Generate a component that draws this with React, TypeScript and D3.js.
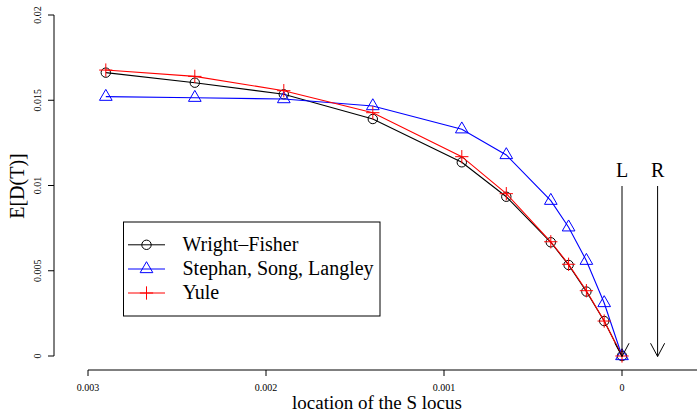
import React from "react";
import { scaleLinear, line } from "d3";

// location of the S locus (axis runs from 0.003 down to 0)
const positions = [0.0029, 0.0024, 0.0019, 0.0014, 0.0009, 0.00065, 0.0004, 0.0003, 0.0002, 0.0001, 0];
const wrightFisher = [0.01662, 0.01603, 0.01535, 0.0139, 0.01136, 0.00934, 0.00667, 0.00534, 0.00378, 0.00205, 0];
const stephanSongLangley = [0.01521, 0.01515, 0.01507, 0.01466, 0.0133, 0.01179, 0.00911, 0.00755, 0.00559, 0.00311, 0];
const yule = [0.01677, 0.0164, 0.01556, 0.01427, 0.01169, 0.00952, 0.0067, 0.00538, 0.00383, 0.00205, 0];

const xTicks = [0.003, 0.002, 0.001, 0];
const xTickLabels = ["0.003", "0.002", "0.001", "0"];
const yTicks = [0, 0.005, 0.01, 0.015, 0.02];
const yTickLabels = ["0", "0.005", "0.01", "0.015", "0.02"];

const seriesNames = ["Wright\u2013Fisher", "Stephan, Song, Langley", "Yule"];
const seriesColors = ["#000000", "#0000ff", "#ff0000"];
const seriesShapes = ["circle", "triangle", "plus"];
const seriesValues = [wrightFisher, stephanSongLangley, yule];

// marker positions for the L and R loci
const markerLabels = ["L", "R"];
const markerPositions = [0, -0.0002];

const W = 697;
const H = 412;
const FONT = "'Liberation Serif', 'Times New Roman', serif";
const txt = { fontFamily: FONT };

function Marker({ shape, x, y, color }) {
  const r = 4.7;
  if (shape === "circle") {
    return <circle cx={x} cy={y} r={r} fill="none" stroke={color} strokeWidth={1} />;
  }
  if (shape === "triangle") {
    const top = 1.555 * r, bot = 0.7776 * r, half = 1.347 * r;
    const d = `M${x},${y - top}L${x + half},${y + bot}L${x - half},${y + bot}Z`;
    return <path d={d} fill="none" stroke={color} strokeWidth={1} />;
  }
  const a = 1.414 * r;
  return <path d={`M${x - a},${y}H${x + a}M${x},${y - a}V${y + a}`} stroke={color} strokeWidth={1} />;
}

export default function App() {
  const x = scaleLinear().domain([0.003, 0]).range([88, 622]);
  const y = scaleLinear().domain([0, 0.02]).range([356, 15]);
  const axisY = 370;
  const axisX = 54;

  const lineGen = line<number>()
    .x((d, i) => x(positions[i]))
    .y(d => y(d));

  const legend = { x0: 123.5, y0: 222, x1: 380, y1: 316, rows: [244.8, 269, 293] };

  return (
    <div style={{ position: "absolute", left: 0, top: 0 }}>
      <svg width={W} height={H} style={{ display: "block", background: "#fff" }}>
        {/* y axis */}
        <line x1={axisX} x2={axisX} y1={y(0)} y2={y(0.02)} stroke="#000" />
        {yTicks.map((t, i) => (
          <g key={"yt" + i}>
            <line x1={axisX - 6} x2={axisX} y1={y(t)} y2={y(t)} stroke="#000" />
            <text transform={`translate(41,${y(t)}) rotate(-90)`} textAnchor="middle" fontSize={10} style={txt}>
              {yTickLabels[i]}
            </text>
          </g>
        ))}
        <text transform={`translate(24,186) rotate(-90)`} textAnchor="middle" fontSize={20} style={txt}>
          E[D(T)]
        </text>

        {/* x axis */}
        <line x1={x(0.003)} x2={W} y1={axisY} y2={axisY} stroke="#000" />
        {xTicks.map((t, i) => (
          <g key={"xt" + i}>
            <line x1={x(t)} x2={x(t)} y1={axisY} y2={axisY + 6} stroke="#000" />
            <text x={x(t)} y={391} textAnchor="middle" fontSize={10} style={txt}>
              {xTickLabels[i]}
            </text>
          </g>
        ))}
        <text x={377} y={408.5} textAnchor="middle" fontSize={19} style={txt}>
          location of the S locus
        </text>

        {/* series */}
        {seriesValues.map((vals, s) => (
          <g key={"s" + s}>
            <path d={lineGen(vals) || ""} fill="none" stroke={seriesColors[s]} strokeWidth={1.1} />
            {vals.map((v, i) => (
              <Marker key={i} shape={seriesShapes[s]} x={x(positions[i])} y={y(v)} color={seriesColors[s]} />
            ))}
          </g>
        ))}

        {/* L / R arrows */}
        {markerPositions.map((p, i) => {
          const ax = x(p);
          const top = 186, tip = 356.5;
          const hl = 15, ang = (28 * Math.PI) / 180;
          return (
            <g key={"m" + i}>
              <line x1={ax} x2={ax} y1={top} y2={tip} stroke="#000" />
              <path
                d={`M${ax - hl * Math.sin(ang)},${tip - hl * Math.cos(ang)}L${ax},${tip}L${ax + hl * Math.sin(ang)},${tip - hl * Math.cos(ang)}`}
                fill="none"
                stroke="#000"
              />
              <text x={ax} y={176.5} textAnchor="middle" fontSize={20} style={txt}>
                {markerLabels[i]}
              </text>
            </g>
          );
        })}

        {/* legend */}
        <rect
          x={legend.x0}
          y={legend.y0}
          width={legend.x1 - legend.x0}
          height={legend.y1 - legend.y0}
          fill="#fff"
          stroke="#000"
        />
        {seriesNames.map((n, s) => (
          <g key={"l" + s}>
            <line x1={128} x2={165} y1={legend.rows[s]} y2={legend.rows[s]} stroke={seriesColors[s]} />
            <Marker shape={seriesShapes[s]} x={146.5} y={legend.rows[s]} color={seriesColors[s]} />
            <text x={182.5} y={legend.rows[s] + 6} fontSize={20} style={txt}>
              {n}
            </text>
          </g>
        ))}
      </svg>
    </div>
  );
}
